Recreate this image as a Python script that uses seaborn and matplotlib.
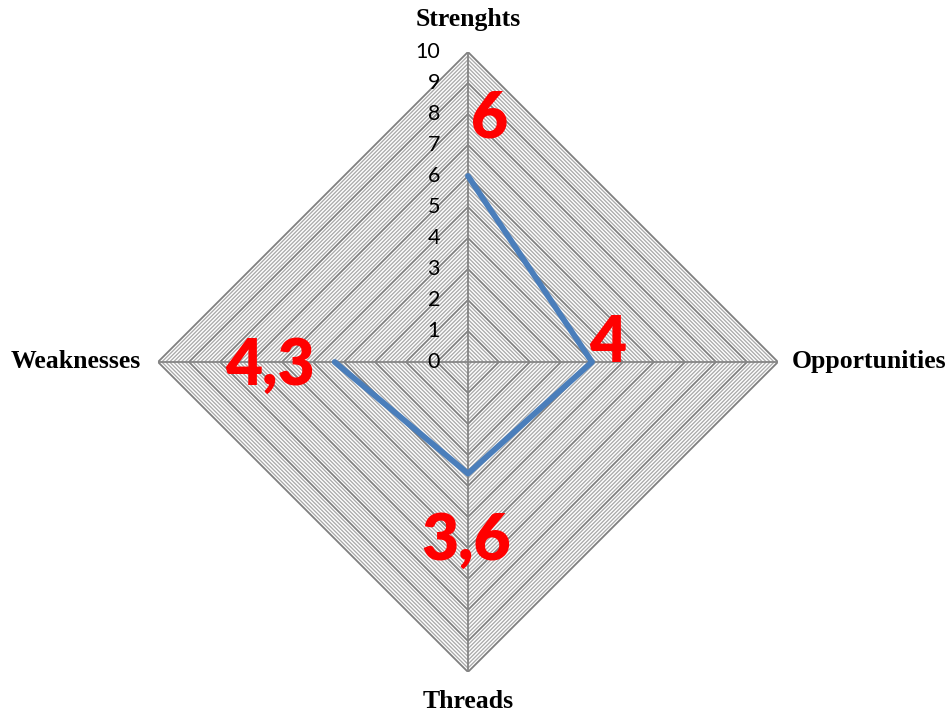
import numpy as np
import matplotlib
matplotlib.use('Agg')
import matplotlib.pyplot as plt
import seaborn as sns

# data
CATEGORIES = ['Strenghts', 'Opportunities', 'Threads', 'Weaknesses']
VALUES = [6, 4, 3.6, 4.3]
VALUE_LABELS = ['6', '4', '3,6', '4,3']
RMAX = 10
MAJOR_STEP = 1
MINOR_PER_MAJOR = 8

sns.set_theme(style='white')
plt.rcParams['font.family'] = ['DejaVu Sans']

fig = plt.figure(figsize=(9.5, 7.12), dpi=100)
ax = fig.add_axes([0.1663, 0.0562, 0.6526, 0.8708], projection='polar')
ax.set_theta_zero_location('N')
ax.set_theta_direction(-1)

theta = np.arange(len(CATEGORIES)) * 2 * np.pi / len(CATEGORIES)
theta_closed = np.append(theta, theta[0])

# concentric diamond gridlines (minor + major)
n_minor = RMAX * MINOR_PER_MAJOR
for k in range(1, n_minor + 1):
    r = k / MINOR_PER_MAJOR
    if k % MINOR_PER_MAJOR == 0:
        ax.plot(theta_closed, [r] * len(theta_closed), color='#7f7f7f', lw=1.3, zorder=2)
    else:
        ax.plot(theta_closed, [r] * len(theta_closed), color='#ababab', lw=0.95, zorder=1)

# spokes
for t in theta:
    ax.plot([t, t], [0, RMAX], color='#858585', lw=1.3, zorder=2)

# data series
vals_closed = VALUES + VALUES[:1]
sns.lineplot(x=theta_closed, y=vals_closed, sort=False, color='#4a7ebb',
             linewidth=4.2, ax=ax, zorder=5)

ax.set_ylim(0, RMAX)
ax.grid(False)
ax.spines['polar'].set_visible(False)
ax.set_xticks([])
ax.set_yticks([])
ax.set_xlabel('')
ax.set_ylabel('')
ax.set_facecolor('white')

# radial tick labels
for v in range(0, RMAX + 1, MAJOR_STEP):
    ax.annotate(str(v), xy=(0, v), xytext=(-28, 0), textcoords='offset pixels',
                ha='right', va='center', fontsize=15.5, family='Lato', color='black',
                zorder=6)

# category labels
cat_offsets = [(0, 32, 'center', 'center'), (14, 0, 'left', 'center'),
               (0, -30, 'center', 'center'), (-17, 0, 'right', 'center')]
for t, name, (dx, dy, ha, va) in zip(theta, CATEGORIES, cat_offsets):
    ax.annotate(name, xy=(t, RMAX), xytext=(dx, dy), textcoords='offset pixels',
                ha=ha, va=va, fontsize=18.5, fontweight='bold',
                family='Liberation Serif', color='black', annotation_clip=False)

# big red value labels
val_offsets = [(22, 38), (16, 0), (-2, -86), (-65, -23)]
for t, v, lab, (dx, dy) in zip(theta, VALUES, VALUE_LABELS, val_offsets):
    ax.annotate(lab, xy=(t, v), xytext=(dx, dy), textcoords='offset pixels',
                ha='center', va='baseline', fontsize=46, fontweight='heavy',
                family='Lato', color='#ff0000', zorder=7)

fig.savefig('out.png', dpi=100, facecolor='white')
